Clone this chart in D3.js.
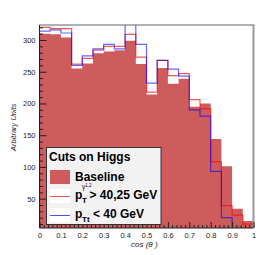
<!DOCTYPE html>
<html><head><meta charset="utf-8">
<script src="https://cdn.jsdelivr.net/npm/d3@7"></script>
<style>
html,body{margin:0;padding:0;background:#fff;}
svg{display:block;font-family:"Liberation Sans",Arial,Helvetica,sans-serif;}
</style></head>
<body><svg id="c" width="268" height="255"></svg>
<script>
// cos(theta) bins: 20 bins of width 0.05 from 0 to 1
const binEdges = d3.range(0, 21).map(i => i * 0.05);
const baseline = [310, 309, 304, 255, 263, 279, 282, 284, 299, 262, 214, 256, 231, 239, 195, 200, 144, 101, 34, 15];
const ptCut    = [320, 318, 318, 262, 271, 284, 290, 290, 309, 273, 218, 268, 244, 247, 206, 192, 108, 39, 24, 10];
const pttCut   = [314, 316, 311, 260, 275, 286, 293, 286, 340, 293, 232, 268, 254, 243, 190, 180, 93, 20, 1, 1];
const yTicks = [50, 100, 150, 200, 250, 300];
const xTicks = [0, 0.1, 0.2, 0.3, 0.4, 0.5, 0.6, 0.7, 0.8, 0.9, 1];
const xTickLabels = ["0", "0.1", "0.2", "0.3", "0.4", "0.5", "0.6", "0.7", "0.8", "0.9", "1"];

const L = 39.5, R = 253.5, T = 25, B = 228;
const x = d3.scaleLinear().domain([0, 1]).range([L, R]);
const y = d3.scaleLinear().domain([0, 300]).range([230.4, 40]);
const yMin = y.invert(B), yMax = y.invert(T);

const svg = d3.select("#c");
svg.append("defs").append("clipPath").attr("id", "pc")
  .append("rect").attr("x", L).attr("y", T).attr("width", R - L).attr("height", B - T);

function stepPts(vals) {
  const pts = [[0, yMin]];
  vals.forEach((v, i) => { pts.push([binEdges[i], v]); pts.push([binEdges[i + 1], v]); });
  pts.push([1, yMin]);
  return pts;
}
const g = svg.append("g").attr("clip-path", "url(#pc)");
const area = d3.area().x(d => x(d[0])).y0(y(yMin)).y1(d => y(d[1]));
g.append("path").datum(stepPts(baseline)).attr("d", area).attr("fill", "rgb(206,92,92)");
const line = d3.line().x(d => x(d[0])).y(d => y(d[1]));
g.append("path").datum(stepPts(ptCut)).attr("d", line).attr("fill", "none")
  .attr("stroke", "#ff0000").attr("stroke-opacity", 0.65).attr("stroke-width", 1.2);
g.append("path").datum(stepPts(pttCut)).attr("d", line).attr("fill", "none")
  .attr("stroke", "#0000ff").attr("stroke-opacity", 0.6).attr("stroke-width", 1.2);

// frame
svg.append("line").attr("x1", L).attr("x2", R + 1).attr("y1", T).attr("y2", T).attr("stroke", "#666").attr("stroke-width", 1.2);
svg.append("line").attr("x1", R).attr("x2", R).attr("y1", T).attr("y2", B).attr("stroke", "#999").attr("stroke-width", 2);

// y axis
const yMinor = d3.range(10, 330, 10).filter(v => v <= yMax && v >= yMin && v % 50 !== 0);
const ya = svg.append("g").attr("transform", `translate(${L},0)`);
ya.call(d3.axisLeft(y).tickValues(yTicks).tickSize(-7).tickSizeOuter(0).tickPadding(4).tickFormat(d3.format("d")));
const ym = svg.append("g").attr("transform", `translate(${L},0)`);
ym.call(d3.axisLeft(y).tickValues(yMinor).tickSize(-3.5).tickSizeOuter(0).tickFormat(""));
[ya, ym].forEach(a => { a.select(".domain").remove(); a.selectAll("line").attr("stroke", "#222"); });
ya.selectAll("text").attr("font-size", "7.5px").attr("fill", "#222").attr("font-family", "Liberation Sans, Arial, sans-serif");
svg.append("line").attr("x1", L).attr("x2", L).attr("y1", T).attr("y2", B).attr("stroke", "#222");

// x axis
const xMinor = d3.range(0, 51).map(i => i * 0.02).filter((v, i) => i % 5 !== 0);
const xa = svg.append("g").attr("transform", `translate(0,${B})`);
xa.call(d3.axisBottom(x).tickValues(xTicks).tickSize(-6).tickSizeOuter(0).tickPadding(5).tickFormat((d, i) => xTickLabels[i]));
const xm = svg.append("g").attr("transform", `translate(0,${B})`);
xm.call(d3.axisBottom(x).tickValues(xMinor).tickSize(-3).tickSizeOuter(0).tickFormat(""));
[xa, xm].forEach(a => { a.select(".domain").remove(); a.selectAll("line").attr("stroke", "#222"); });
xa.selectAll("text").attr("font-size", "7.5px").attr("fill", "#222").attr("font-family", "Liberation Sans, Arial, sans-serif");
svg.append("line").attr("x1", L).attr("x2", R).attr("y1", B).attr("y2", B).attr("stroke", "#222");

// titles
svg.append("text").attr("x", 131).attr("y", 246.5).attr("font-size", "8px").attr("font-style", "italic")
  .attr("fill", "#222").text("cos (θ )");
svg.append("text").attr("transform", "translate(15.5,151) rotate(-90)").attr("font-size", "7.5px")
  .attr("font-style", "italic").attr("fill", "#222").text("Arbitrary Units");

// legend
const lg = svg.append("g");
lg.append("rect").attr("x", 46.5).attr("y", 147.5).attr("width", 114.5).attr("height", 77)
  .attr("fill", "#f2f2f2").attr("stroke", "#333").attr("stroke-width", 1);
lg.append("text").attr("x", 49).attr("y", 161).attr("font-size", "12px").attr("font-weight", "bold").text("Cuts on Higgs");
lg.append("rect").attr("x", 50).attr("y", 170).attr("width", 20).attr("height", 14).attr("fill", "rgb(206,92,92)");
lg.append("text").attr("x", 75).attr("y", 181).attr("font-size", "12px").attr("font-weight", "bold").text("Baseline");
lg.append("rect").attr("x", 50).attr("y", 189).attr("width", 20).attr("height", 14).attr("fill", "#fff");
lg.append("line").attr("x1", 50).attr("x2", 70).attr("y1", 196.5).attr("y2", 196.5).attr("stroke", "#ff0000").attr("stroke-opacity", 0.7);
lg.append("rect").attr("x", 50).attr("y", 208).attr("width", 20).attr("height", 14).attr("fill", "#fff");
lg.append("line").attr("x1", 50).attr("x2", 70).attr("y1", 215.5).attr("y2", 215.5).attr("stroke", "#0000ff").attr("stroke-opacity", 0.7);

const t1 = lg.append("g").attr("font-weight", "bold");
t1.append("text").attr("x", 75).attr("y", 199).attr("font-size", "12px").text("p");
t1.append("text").attr("x", 82).attr("y", 203).attr("font-size", "8px").text("T");
t1.append("text").attr("x", 82).attr("y", 189).attr("font-size", "6.5px").attr("font-weight", "normal").text("γ");
t1.append("text").attr("x", 85.3).attr("y", 187).attr("font-size", "4.5px").attr("font-weight", "normal").text("1,2");
t1.append("text").attr("x", 89.5).attr("y", 199).attr("font-size", "12px").text("> 40,25 GeV");
const t2 = lg.append("g").attr("font-weight", "bold");
t2.append("text").attr("x", 75).attr("y", 218).attr("font-size", "12px").text("p");
t2.append("text").attr("x", 82).attr("y", 222).attr("font-size", "8px").text("Tt");
t2.append("text").attr("x", 93).attr("y", 218).attr("font-size", "12px").text("< 40 GeV");
</script></body></html>
